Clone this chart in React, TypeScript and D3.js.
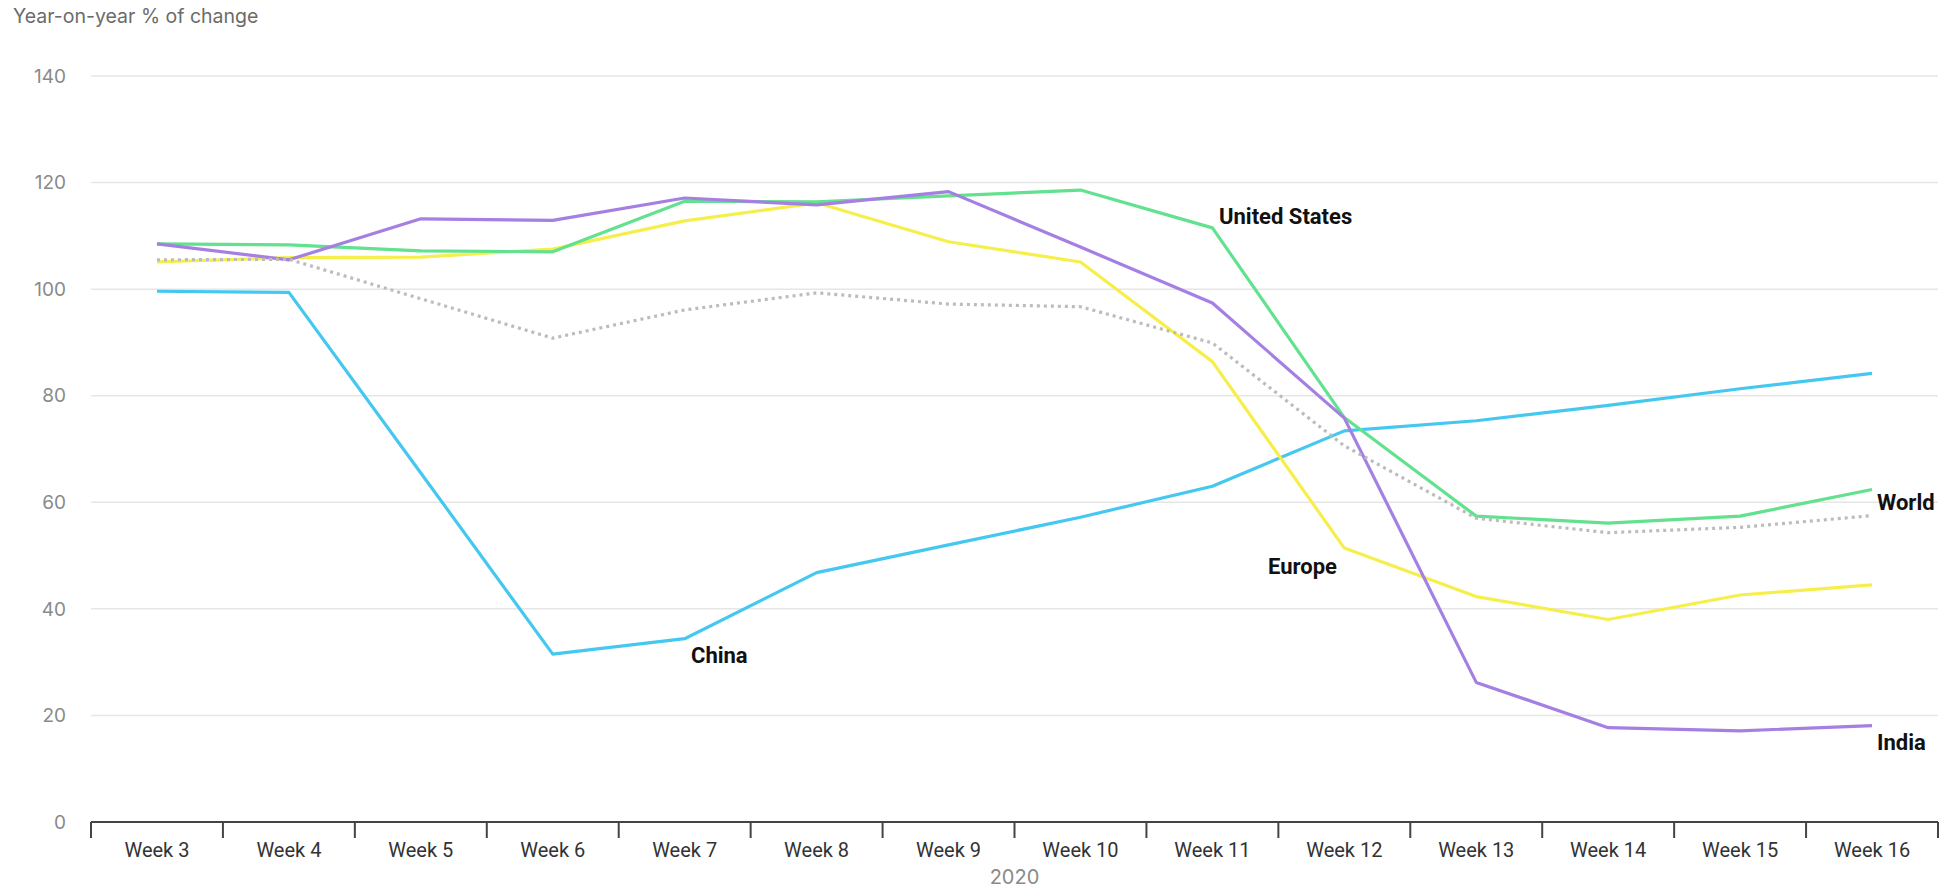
import React from "react";
import * as d3 from "d3";

const weeks = ["Week 3","Week 4","Week 5","Week 6","Week 7","Week 8","Week 9","Week 10","Week 11","Week 12","Week 13","Week 14","Week 15","Week 16"];
const yTicks = [0, 20, 40, 60, 80, 100, 120, 140];

const china = [99.6, 99.4, 65.5, 31.5, 34.4, 46.8, 52.0, 57.2, 63.0, 73.4, 75.3, 78.2, 81.3, 84.2];
const unitedStates = [108.5, 108.3, 107.2, 107.0, 116.5, 116.4, 117.5, 118.6, 111.5, 75.9, 57.4, 56.1, 57.4, 62.4];
const india = [108.5, 105.5, 113.2, 112.9, 117.1, 115.8, 118.3, 107.9, 97.4, 75.8, 26.2, 17.7, 17.1, 18.1];
const europe = [105.1, 105.9, 106.0, 107.5, 112.8, 116.2, 108.9, 105.1, 86.4, 51.4, 42.3, 38.0, 42.6, 44.5];
const world = [105.5, 105.6, 98.2, 90.8, 96.1, 99.3, 97.2, 96.7, 89.9, 70.6, 57.0, 54.3, 55.3, 57.5];

const seriesNames = ["World", "China", "Europe", "United States", "India"];
const seriesColors = ["#bcbcbc", "#45c8f0", "#f6ef4b", "#62e18f", "#a67fe3"];

const W = 1953;
const H = 889;

export default function App() {
  const x = d3.scaleBand<string>().domain(weeks).range([91, 1938]);
  const y = d3.scaleLinear().domain([0, 140]).range([822, 76]);
  const cx = (w: string) => (x(w) as number) + x.bandwidth() / 2;
  const line = d3
    .line<number>()
    .x((_, i) => cx(weeks[i]))
    .y((v) => y(v));

  const data = [world, china, europe, unitedStates, india];
  const drawOrder = [1, 2, 3, 4, 0];

  const font = "Roboto, 'Noto Sans', sans-serif";
  const lightFont = "Inter, Roboto, sans-serif";
  const ticksX = weeks.map((w) => x(w) as number).concat([x.range()[1]]);

  const labels = [
    { text: "United States", x: 1219, y: 224 },
    { text: "World", x: 1877, y: 510 },
    { text: "India", x: 1877, y: 750 },
    { text: "Europe", x: 1268, y: 574 },
    { text: "China", x: 691, y: 663 },
  ];

  return (
    <svg
      width={W}
      height={H}
      style={{ position: "absolute", left: 0, top: 0, background: "#fff" }}
      fontFamily={font}
    >
      <text x={13} y={23} fontSize={19.5} fill="#6b6b6b" fontFamily={lightFont}>
        Year-on-year % of change
      </text>

      {yTicks.map((t) => (
        <g key={t}>
          {t > 0 && (
            <line x1={91} x2={1938} y1={y(t)} y2={y(t)} stroke="#e6e6e6" strokeWidth={1.5} />
          )}
          <text x={66} y={y(t)} dy="0.35em" textAnchor="end" fontSize={19} fill="#8a8a8a" fontFamily={lightFont}>
            {t}
          </text>
        </g>
      ))}

      {drawOrder.map((i) => (
        <path
          key={seriesNames[i]}
          d={line(data[i]) || ""}
          fill="none"
          stroke={seriesColors[i]}
          strokeWidth={3.2}
          strokeDasharray={i === 0 ? "3,4" : undefined}
          strokeLinejoin="round"
        />
      ))}

      <line x1={91} x2={1938} y1={822} y2={822} stroke="#444" strokeWidth={2} />
      {ticksX.map((tx, i) => (
        <line key={i} x1={tx} x2={tx} y1={822} y2={838} stroke="#444" strokeWidth={2} />
      ))}
      {weeks.map((w) => (
        <text key={w} x={cx(w)} y={857} textAnchor="middle" fontSize={20} fill="#333">
          {w}
        </text>
      ))}
      <text x={(91 + 1938) / 2} y={884} textAnchor="middle" fontSize={20} fill="#8a8a8a" fontFamily={lightFont}>
        2020
      </text>

      {labels.map((l) => (
        <text key={l.text} x={l.x} y={l.y} fontSize={22} fontWeight={700} fill="#111">
          {l.text}
        </text>
      ))}
    </svg>
  );
}
